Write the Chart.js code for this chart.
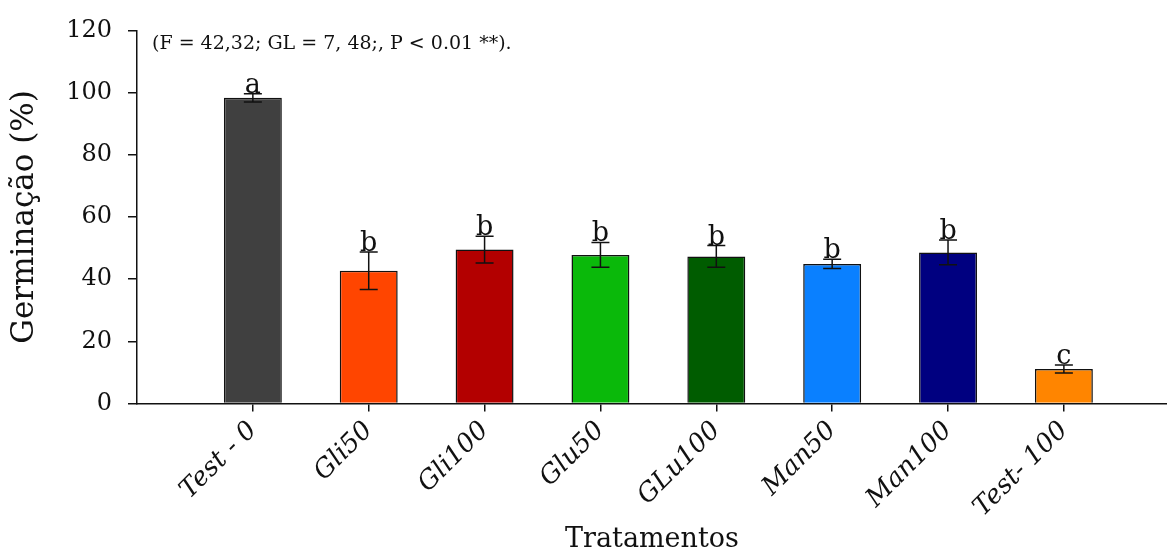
<!DOCTYPE html>
<html>
<head>
<meta charset="utf-8">
<script src="https://cdn.jsdelivr.net/npm/chart.js@4.4.1/dist/chart.umd.min.js"></script>
<style>
html,body{margin:0;padding:0;background:#fff;}
canvas{display:block;}
</style>
</head>
<body>
<canvas id="c" width="1167" height="556"></canvas>
<script>
// ---- data ----
const categories = ['Test - 0','Gli50','Gli100','Glu50','GLu100','Man50','Man100','Test- 100'];
const positions = [1,2,3,4,5,6,7,8];
const germination = [98.3, 42.7, 49.5, 47.8, 47.3, 44.9, 48.6, 11.1];
const errors = [1.3, 6.0, 4.3, 4.0, 3.5, 1.5, 4.0, 1.3];
const letters = ['a','b','b','b','b','b','b','c'];
const barColors = ['#404040','#ff4500','#b30000','#0ab90a','#005c00','#0a80ff','#000080','#ff8500'];
const yTicks = [0,20,40,60,80,100,120];
const statsNote = '(F = 42,32; GL = 7, 48;, P < 0.01 **).';

const FONT = "'DejaVu Serif', serif";

const errorPlugin = {
  id: 'errorBars',
  afterDatasetsDraw(chart) {
    const ctx = chart.ctx;
    const meta = chart.getDatasetMeta(0);
    const ys = chart.scales.y;
    ctx.save();
    ctx.strokeStyle = '#111';
    ctx.lineWidth = 1.5;
    meta.data.forEach((bar, i) => {
      const x = bar.x;
      const top = ys.getPixelForValue(germination[i] + errors[i]);
      const bot = ys.getPixelForValue(germination[i] - errors[i]);
      const cw = 9;
      ctx.beginPath();
      ctx.moveTo(x, top); ctx.lineTo(x, bot);
      ctx.moveTo(x - cw, top); ctx.lineTo(x + cw, top);
      ctx.moveTo(x - cw, bot); ctx.lineTo(x + cw, bot);
      ctx.stroke();
      ctx.fillStyle = '#111';
      ctx.font = "27px " + FONT;
      ctx.textAlign = 'center';
      ctx.textBaseline = 'alphabetic';
      ctx.fillText(letters[i], x, top - 1);
    });
    ctx.font = "19px " + FONT;
    ctx.textAlign = 'left';
    ctx.textBaseline = 'middle';
    ctx.fillStyle = '#111';
    ctx.fillText(statsNote, 152, 44);
    ctx.restore();
  }
};

new Chart(document.getElementById('c'), {
  type: 'bar',
  data: {
    datasets: [{
      data: positions.map((p, i) => ({x: p, y: germination[i]})),
      backgroundColor: barColors,
      borderColor: '#111',
      borderWidth: 1.5,
      barPercentage: 0.5,
      categoryPercentage: 1.0
    }]
  },
  options: {
    responsive: false,
    animation: false,
    layout: {padding: {top: 24, right: 0, left: 0, bottom: 0}},
    plugins: {legend: {display: false}, tooltip: {enabled: false}},
    scales: {
      x: {
        type: 'linear',
        offset: false,
        min: 0,
        max: 8.89,
        afterBuildTicks(scale) { scale.ticks = positions.map(v => ({value: v})); },
        afterFit(scale) { scale.height = 152.5; },
        border: {display: true, color: '#111', width: 1.5},
        grid: {display: true, offset: false, drawOnChartArea: false, drawTicks: true, tickLength: 8, color: '#111', lineWidth: 1.5},
        ticks: {
          minRotation: 45, maxRotation: 45, autoSkip: false,
          padding: 4,
          color: '#111',
          font: {family: FONT, size: 26, style: 'italic'},
          callback: (v) => categories[positions.indexOf(v)] ?? ''
        },
        title: {
          display: true, text: 'Tratamentos', color: '#111',
          font: {family: FONT, size: 27},
          padding: {top: 0, bottom: 0}
        }
      },
      y: {
        min: 0, max: 120,
        afterBuildTicks(scale) { scale.ticks = yTicks.map(v => ({value: v})); },
        afterFit(scale) { scale.width = 137; },
        border: {display: true, color: '#111', width: 1.5},
        grid: {display: true, drawOnChartArea: false, drawTicks: true, tickLength: 9, color: '#111', lineWidth: 1.5},
        ticks: {
          padding: 16, color: '#111',
          font: {family: FONT, size: 24}
        },
        title: {
          display: true, text: 'Germinação (%)', color: '#111',
          font: {family: FONT, size: 31},
          padding: {top: 6, bottom: 0}
        }
      }
    }
  },
  plugins: [errorPlugin]
});
</script>
</body>
</html>
